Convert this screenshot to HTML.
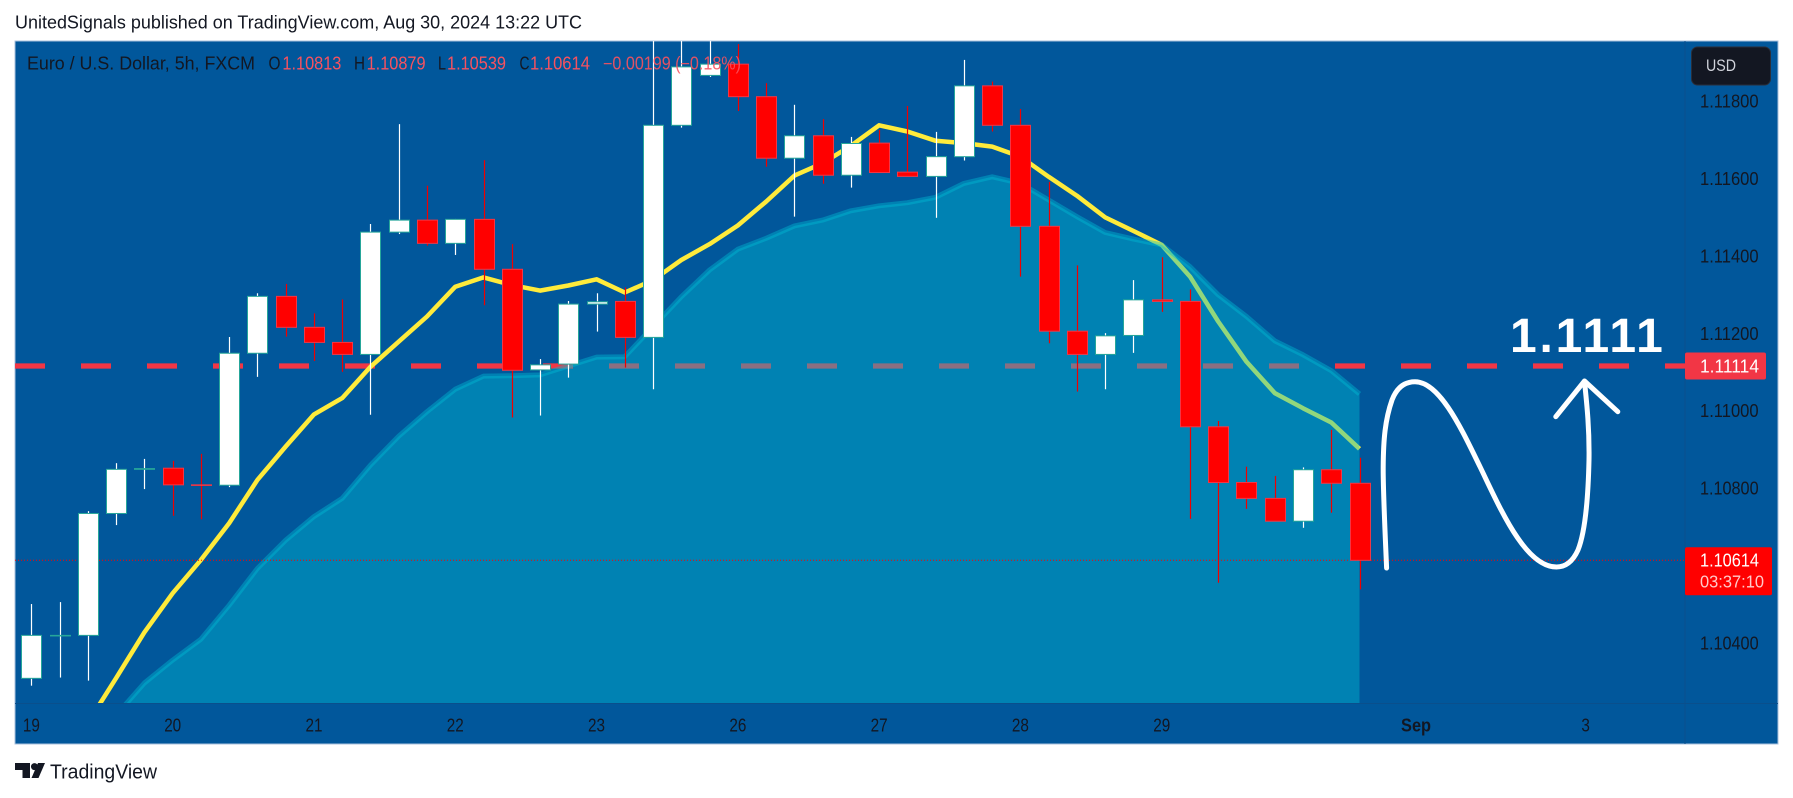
<!DOCTYPE html>
<html lang="en">
<head>
<meta charset="utf-8">
<title>EUR/USD 5h chart</title>
<style>
html,body{margin:0;padding:0;background:#fff;width:1793px;height:798px;overflow:hidden}
svg{display:block}
text{font-family:"Liberation Sans",sans-serif}
</style>
</head>
<body>
<svg id="chart" xmlns="http://www.w3.org/2000/svg" width="1793" height="798" viewBox="0 0 1793 798">
  <defs>
    <clipPath id="plot-clip"><rect x="15" y="41" width="1670" height="662"/></clipPath>
  </defs>
  <text x="15" y="28.5" font-size="18" fill="#131722" textLength="567" lengthAdjust="spacingAndGlyphs">UnitedSignals published on TradingView.com, Aug 30, 2024 13:22 UTC</text>
  <rect x="15" y="41" width="1763" height="703" fill="#01579b" stroke="#a9c0dc" stroke-width="1"/>
  <line x1="1685" y1="41" x2="1685" y2="744" stroke="#0a4f8c" stroke-width="1"/>
  <line x1="15" y1="703.5" x2="1778" y2="703.5" stroke="#0a4f8c" stroke-width="1"/>
  <g id="plot" clip-path="url(#plot-clip)"></g>
  <g id="axes"></g>

  <g font-size="18">
    <text x="27" y="69.5" fill="#131722" textLength="228" lengthAdjust="spacingAndGlyphs">Euro / U.S. Dollar, 5h, FXCM</text>
    <text x="268.5" y="69.5" fill="#131722" textLength="12" lengthAdjust="spacingAndGlyphs">O</text>
    <text x="282.4" y="69.5" fill="#f7525f" textLength="59" lengthAdjust="spacingAndGlyphs">1.10813</text>
    <text x="354" y="69.5" fill="#131722" textLength="11" lengthAdjust="spacingAndGlyphs">H</text>
    <text x="366.6" y="69.5" fill="#f7525f" textLength="59" lengthAdjust="spacingAndGlyphs">1.10879</text>
    <text x="438" y="69.5" fill="#131722" textLength="8" lengthAdjust="spacingAndGlyphs">L</text>
    <text x="447" y="69.5" fill="#f7525f" textLength="59" lengthAdjust="spacingAndGlyphs">1.10539</text>
    <text x="519.5" y="69.5" fill="#131722" textLength="10" lengthAdjust="spacingAndGlyphs">C</text>
    <text x="530" y="69.5" fill="#f7525f" textLength="60" lengthAdjust="spacingAndGlyphs">1.10614</text>
    <text x="603" y="69.5" fill="#f7525f" fill-opacity="0.9" textLength="138" lengthAdjust="spacingAndGlyphs">−0.00199 (−0.18%)</text>
  </g>

  <g>
    <rect x="1691.5" y="47" width="79" height="38" rx="6" fill="#131722" stroke="#2a2e39"/>
    <text x="1706" y="71" font-size="17" fill="#d1d4dc" textLength="30" lengthAdjust="spacingAndGlyphs">USD</text>
  </g>

  <g fill="none" stroke="#ffffff" stroke-width="5" stroke-linecap="round" stroke-linejoin="round">
    <path d="M1386.6 568 C1385 530,1383 490,1383.2 466.7 C1383.4 440,1385 420,1392 400 C1397 387,1405 381.7,1415 381.7 C1440 381.7,1462 430,1480 466.7 C1500 508,1525 567,1556.5 567 C1566 567,1573 561,1578 550 C1584 535,1588 505,1589 460 C1589.5 430,1587 405,1584.5 381.7"/>
    <polyline points="1555.8,416.7 1584.5,381 1617.8,411.7"/>
  </g>
  <text x="1510" y="352" font-size="48" font-weight="bold" letter-spacing="2.8" fill="#ffffff">1.1111</text>

  <g>
    <polygon points="15,763 30,763 30,778 22.5,778 22.5,770 15,770" fill="#131722"/>
    <circle cx="34.5" cy="766.6" r="3.5" fill="#131722"/>
    <polygon points="38,763 45,763 38.5,778 31.5,778" fill="#131722"/>
    <text x="50" y="778.5" font-size="20" fill="#131722" textLength="107" lengthAdjust="spacingAndGlyphs">TradingView</text>
  </g>
</svg>
<script>
// ---- chart data ----
const dateLabels = ['19','20','21','22','23','26','27','28','29','Sep','3'];
const dateBarIndex = [0,5,10,15,20,25,30,35,40,49,55];
const priceTicks = [1.118,1.116,1.114,1.112,1.110,1.108,1.104];
const priceTickLabels = ['1.11800','1.11600','1.11400','1.11200','1.11000','1.10800','1.10400'];
const opens = [1.10309,1.10420,1.10420,1.10735,1.10849,1.10852,1.10809,1.10808,1.11149,1.11296,1.11216,1.11177,1.11146,1.11462,1.11493,1.11433,1.11495,1.11366,1.11106,1.11121,1.11276,1.11283,1.11190,1.11738,1.11867,1.11896,1.11812,1.11653,1.11711,1.11609,1.11692,1.11617,1.11606,1.11657,1.11840,1.11738,1.11477,1.11206,1.11146,1.11195,1.11287,1.11283,1.10959,1.10815,1.10774,1.10715,1.10848,1.10813];
const highs = [1.10501,1.10506,1.10741,1.10865,1.10876,1.10871,1.10889,1.11191,1.11304,1.11328,1.11252,1.11288,1.11483,1.11741,1.11582,1.11496,1.11648,1.11431,1.11134,1.11284,1.11304,1.11319,1.11984,1.11984,1.11984,1.11948,1.11847,1.11791,1.11754,1.11708,1.11726,1.11788,1.11721,1.11907,1.11851,1.11780,1.11592,1.11376,1.11201,1.11338,1.11397,1.11314,1.10974,1.10856,1.10832,1.10854,1.10951,1.10879];
const lows = [1.10290,1.10311,1.10303,1.10705,1.10798,1.10729,1.10720,1.10803,1.11088,1.11192,1.11129,1.11101,1.10990,1.11457,1.11427,1.11403,1.11273,1.10983,1.10988,1.11086,1.11205,1.11112,1.11056,1.11732,1.11863,1.11775,1.11631,1.11502,1.11587,1.11577,1.11615,1.11606,1.11499,1.11647,1.11722,1.11347,1.11175,1.11050,1.11056,1.11150,1.11256,1.10721,1.10556,1.10747,1.10715,1.10698,1.10737,1.10539];
const closes = [1.10420,1.10420,1.10735,1.10849,1.10851,1.10809,1.10808,1.11149,1.11296,1.11216,1.11177,1.11146,1.11462,1.11493,1.11433,1.11495,1.11366,1.11105,1.11119,1.11276,1.11282,1.11190,1.11738,1.11889,1.11896,1.11812,1.11653,1.11711,1.11609,1.11691,1.11616,1.11606,1.11657,1.11840,1.11738,1.11477,1.11206,1.11146,1.11194,1.11287,1.11283,1.10959,1.10815,1.10774,1.10715,1.10848,1.10813,1.10614];
const fastAverage = [null,null,1.10194,1.10310,1.10428,1.10529,1.10615,1.10710,1.10822,1.10908,1.10991,1.11033,1.11114,1.11179,1.11244,1.11321,1.11345,1.11325,1.11311,1.11324,1.11340,1.11306,1.11338,1.11390,1.11431,1.11479,1.11541,1.11608,1.11640,1.11685,1.11738,1.11722,1.11698,1.11692,1.11683,1.11657,1.11605,1.11556,1.11500,1.11465,1.11429,1.11347,1.11231,1.11127,1.11046,1.11007,1.10970,1.10902];
const slowAverage = [null,null,null,1.10214,1.10297,1.10356,1.10410,1.10498,1.10593,1.10666,1.10727,1.10774,1.10860,1.10935,1.10998,1.11056,1.11090,1.11091,1.11093,1.11116,1.11139,1.11140,1.11218,1.11295,1.11364,1.11418,1.11446,1.11478,1.11493,1.11517,1.11530,1.11538,1.11552,1.11588,1.11605,1.11588,1.11545,1.11502,1.11461,1.11444,1.11429,1.11373,1.11300,1.11244,1.11181,1.11145,1.11104,1.11044];
const levelPrice = 1.11116;
const levelLabel = '1.11114';
const lastPrice = 1.10614;
const lastPriceLabel = '1.10614';
const countdownLabel = '03:37:10';

// ---- axis functions ----
const xScale = i => 31.4 + i * 28.258;
const yScale = p => 560.3 - (p - 1.10614) * 38700;

const NS = 'http://www.w3.org/2000/svg';
const plot = document.getElementById('plot');
const axes = document.getElementById('axes');
function make(tag, attrs, parent, text) {
  const el = document.createElementNS(NS, tag);
  for (const k in attrs) el.setAttribute(k, attrs[k]);
  if (text !== undefined) el.textContent = text;
  parent.appendChild(el);
  return el;
}
function linePath(series) {
  let d = '';
  series.forEach((v, i) => {
    if (v === null) return;
    d += (d ? 'L' : 'M') + xScale(i).toFixed(1) + ' ' + yScale(v).toFixed(1) + ' ';
  });
  return d;
}

// level line under the area
const level = make('line', {x1:15, x2:1685, y1:yScale(levelPrice), y2:yScale(levelPrice), stroke:'#f23645', 'stroke-width':5.3, 'stroke-dasharray':'30 36'}, plot);



// fast average under the area
const fast = make('path', {d:linePath(fastAverage), fill:'none', stroke:'#ffeb3b', 'stroke-width':4.5, 'stroke-linejoin':'round'}, plot);



// slow average area
const firstSlow = slowAverage.findIndex(v => v !== null);
const lastSlow = slowAverage.length - 1;
const areaD = linePath(slowAverage) + 'L' + xScale(lastSlow).toFixed(1) + ' 703 L' + xScale(firstSlow).toFixed(1) + ' 703 Z';
const area = make('path', {d:areaD, fill:'#00bcd4', 'fill-opacity':0.43, stroke:'none'}, plot);


const areaEdge = make('path', {d:linePath(slowAverage), fill:'none', stroke:'#00bcd4', 'stroke-opacity':0.42, 'stroke-width':5, 'stroke-linejoin':'round'}, plot);



// last price line
const lastLine = make('line', {x1:15, x2:1685, y1:yScale(lastPrice), y2:yScale(lastPrice), stroke:'#ff0000', 'stroke-width':1, 'stroke-dasharray':'1 2'}, plot);



// candles
opens.forEach((o, i) => {
  const c = closes[i];
  const up = c >= o;
  const cx = Math.round(xScale(i)) + 0.5;
  const wick = make('line', {x1:cx, x2:cx, y1:yScale(highs[i]), y2:yScale(lows[i]), stroke: up ? '#ffffff' : '#f00000', 'stroke-width':1.2}, plot);
  
  
  const top = yScale(Math.max(o, c));
  const h = Math.max(Math.abs(yScale(o) - yScale(c)), 0.6);
  const body = make('rect', {x:cx - 10, y:top, width:20, height:h, fill: up ? '#ffffff' : '#ff0000', stroke: up ? '#26a69a' : '#f23645', 'stroke-width':1}, plot);
  
  
});

// price axis
priceTickLabels.forEach((label, i) => {
  const t = make('text', {x:1700, y:yScale(priceTicks[i]) + 6.3, 'font-size':18, fill:'#131722', textLength:58.6, lengthAdjust:'spacingAndGlyphs'}, axes, label);
  
  
});

// time axis
dateLabels.forEach((label, i) => {
  const isMonth = label === 'Sep';
  const t = make('text', {x:xScale(dateBarIndex[i]), y:731.5, 'font-size':18, 'text-anchor':'middle', fill:'#131722', 'font-weight': isMonth ? 'bold' : 'normal', textLength: isMonth ? 30 : label.length * 8.5, lengthAdjust:'spacingAndGlyphs'}, axes, label);
  
  
});

// price tags
const levelTag = make('rect', {x:1685, y:yScale(levelPrice) - 13.5, width:81, height:27, rx:2, fill:'#f23645'}, axes);


const levelTagText = make('text', {x:1700, y:yScale(levelPrice) + 6.3, 'font-size':18, fill:'#ffffff', textLength:59, lengthAdjust:'spacingAndGlyphs'}, axes, levelLabel);



const lastTag = make('rect', {x:1685, y:yScale(lastPrice) - 13, width:87, height:48, rx:2, fill:'#ff0000'}, axes);


const lastTagText = make('text', {x:1700, y:yScale(lastPrice) + 6.3, 'font-size':18, fill:'#ffffff', textLength:59, lengthAdjust:'spacingAndGlyphs'}, axes, lastPriceLabel);


const countdown = make('text', {x:1700, y:yScale(lastPrice) + 27, 'font-size':17.5, fill:'#ffc9c9', textLength:64, lengthAdjust:'spacingAndGlyphs'}, axes, countdownLabel);


</script>
</body>
</html>
